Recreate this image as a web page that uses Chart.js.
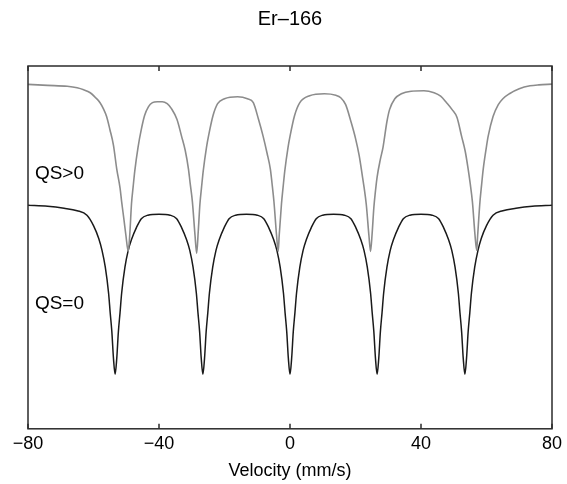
<!DOCTYPE html>
<html>
<head>
<meta charset="utf-8">
<script src="https://cdn.jsdelivr.net/npm/chart.js@4/dist/chart.umd.min.js"></script>
<style>
  html, body { margin: 0; padding: 0; background: #fff; }
</style>
</head>
<body>
<canvas id="grafico" width="567" height="484"></canvas>
<script>
// QS>0 curve (gray), velocity in mm/s
const grayX = [-80, -74, -68, -65, -63, -61, -59.5, -58, -57, -56, -55, -53.9, -52.9, -51.9, -51.4, -50.7, -50.1, -49.4,
  -48.9, -48.4, -47.9, -47.4, -46.4, -45.4, -44.4, -43.2, -42, -40.5, -39, -37.5, -36.2, -34.5, -33.1, -32, -31, -30.5, -29.8, -29, -28.5,
  -28, -27.5, -27, -26.5, -25.5, -24.9, -23.5, -22.1, -20, -16, -13, -11.2, -9.6, -8.2, -7, -6, -5.5, -4.9, -4.1, -3.6,
  -3.3, -2.6, -2.1, -1.6, -0.6, 0, 1.4, 3, 6, 10.5, 14, 15.5, 17, 18.6, 20, 21.1, 22.1, 22.6, 23.3, 24.1, 24.6,
  25.1, 25.6, 26.1, 26.6, 27.6, 28.4, 29.6, 30.4, 32, 34, 37, 40.9, 44, 46, 47.8, 49.5, 51, 52.4, 53.5, 54.4, 55, 55.7, 56.5, 57,
  57.3, 58, 58.5, 59, 60, 60.5, 62, 63.6, 65, 67, 70, 73.3, 76, 80];
const grayY = [3.475, 3.465, 3.455, 3.44, 3.42, 3.39, 3.345, 3.29, 3.23, 3.15, 3.02, 2.86, 2.62, 2.43, 2.29, 2.11, 1.95, 1.79,
  1.97, 2.27, 2.44, 2.60, 2.84, 3.02, 3.16, 3.25, 3.29, 3.30, 3.30, 3.28, 3.23, 3.12, 2.95, 2.81, 2.62, 2.48, 2.29, 1.95, 1.77,
  2.00, 2.27, 2.44, 2.60, 2.84, 2.95, 3.16, 3.28, 3.33, 3.35, 3.33, 3.29, 3.12, 2.95, 2.78, 2.62, 2.48, 2.29, 1.95, 1.79,
  1.95, 2.27, 2.44, 2.60, 2.84, 2.95, 3.16, 3.29, 3.36, 3.38, 3.365, 3.34, 3.27, 3.10, 2.93, 2.76, 2.55, 2.44, 2.26, 1.95, 1.79,
  1.98, 2.23, 2.40, 2.54, 2.72, 2.84, 3.10, 3.22, 3.33, 3.38, 3.405, 3.41, 3.39, 3.355, 3.29, 3.22, 3.14, 2.95, 2.80, 2.62, 2.48, 2.29, 1.95, 1.80,
  1.95, 2.29, 2.46, 2.62, 2.85, 2.95, 3.15, 3.27, 3.33, 3.38, 3.43, 3.46, 3.47, 3.477];

// QS=0 curve (black)
const blackX = [-80, -74, -69, -65, -62, -60, -58.4, -57.4, -56.4, -55.4, -54.9, -54.4, -53.9, -53.4,
  -52.9, -52.4, -51.9, -51.4, -50.4, -49.4, -48.4, -46.9, -45.4, -43.4, -40, -36.6, -34.6, -33.1, -31.6, -30.6, -29.6, -28.6, -28.1, -27.6, -27.1, -26.6,
  -26.1, -25.6, -25.1, -24.6, -23.6, -22.6, -21.6, -20.1, -18.6, -16.6, -13.3, -10, -8, -6.5, -5, -4, -3, -2, -1.5, -1, -0.5, 0,
  0.5, 1, 1.5, 2, 3, 4, 5, 6.5, 8, 10, 13.3, 16.6, 18.6, 20.1, 21.6, 22.6, 23.6, 24.6, 25.1, 25.6, 26.1, 26.6,
  27.1, 27.6, 28.1, 28.6, 29.6, 30.6, 31.6, 33.1, 34.6, 36.6, 40, 43.4, 45.4, 46.9, 48.4, 49.4, 50.4, 51.4, 51.9, 52.4, 52.9, 53.4,
  53.9, 54.4, 54.9, 55.4, 56.4, 57.4, 58.4, 60, 62, 65, 69, 74, 80];
const blackY = [2.255, 2.245, 2.225, 2.20, 2.155, 2.05, 1.92, 1.80, 1.63, 1.37, 1.17, 0.98, 0.71, 0.55,
  0.71, 0.98, 1.17, 1.37, 1.63, 1.80, 1.91, 2.03, 2.12, 2.155, 2.165, 2.155, 2.12, 2.03, 1.91, 1.80, 1.63, 1.37, 1.17, 0.98, 0.71, 0.55,
  0.71, 0.98, 1.17, 1.37, 1.63, 1.80, 1.91, 2.03, 2.12, 2.155, 2.165, 2.155, 2.12, 2.03, 1.91, 1.80, 1.63, 1.37, 1.17, 0.98, 0.71, 0.55,
  0.71, 0.98, 1.17, 1.37, 1.63, 1.80, 1.91, 2.03, 2.12, 2.155, 2.165, 2.155, 2.12, 2.03, 1.91, 1.80, 1.63, 1.37, 1.17, 0.98, 0.71, 0.55,
  0.71, 0.98, 1.17, 1.37, 1.63, 1.80, 1.91, 2.03, 2.12, 2.155, 2.165, 2.155, 2.12, 2.03, 1.91, 1.80, 1.63, 1.37, 1.17, 0.98, 0.71, 0.55,
  0.71, 0.98, 1.17, 1.37, 1.63, 1.80, 1.92, 2.05, 2.155, 2.20, 2.225, 2.245, 2.255];

const labelTexts = ["QS>0", "QS=0"];
const labelX = [-77.9, -77.9];
const labelY = [2.57, 1.26];

const fonte = "'Liberation Sans', Arial, sans-serif";

function juntaPontos(xs, ys) {
  return xs.map((x, i) => {
    return { x: x, y: ys[i] };
  });
}

// box around the plot, inward ticks, curve labels
const moldura = {
  id: "moldura",
  afterDraw(chart) {
    const ctx = chart.ctx;
    const area = chart.chartArea;
    const sx = chart.scales.x;
    const sy = chart.scales.y;
    ctx.save();
    ctx.strokeStyle = "#2b2b2b";
    ctx.lineWidth = 1.5;
    ctx.strokeRect(area.left, area.top, area.right - area.left, area.bottom - area.top);
    sx.ticks.forEach((t) => {
      let px = sx.getPixelForValue(t.value);
      ctx.beginPath();
      ctx.moveTo(px, area.bottom);
      ctx.lineTo(px, area.bottom - 5);
      ctx.moveTo(px, area.top);
      ctx.lineTo(px, area.top + 5);
      ctx.stroke();
    });
    ctx.fillStyle = "#000";
    ctx.font = "19px " + fonte;
    ctx.textBaseline = "middle";
    ctx.textAlign = "left";
    for (let i = 0; i < labelTexts.length; i++) {
      ctx.fillText(labelTexts[i], sx.getPixelForValue(labelX[i]), sy.getPixelForValue(labelY[i]));
    }
    ctx.restore();
  },
};

const ctx = document.getElementById("grafico");
window.myCharts = new Chart(ctx, {
  type: "line",
  data: {
    datasets: [
      {
        label: "QS>0",
        data: juntaPontos(grayX, grayY),
        borderColor: "#8c8c8c",
        borderWidth: 1.6,
        pointRadius: 0,
        fill: false,
        cubicInterpolationMode: "monotone",
      },
      {
        label: "QS=0",
        data: juntaPontos(blackX, blackY),
        borderColor: "#1a1a1a",
        borderWidth: 1.5,
        pointRadius: 0,
        fill: false,
        cubicInterpolationMode: "monotone",
      },
    ],
  },
  options: {
    responsive: false,
    animation: false,
    devicePixelRatio: 1,
    layout: { padding: { left: 28, right: 15, top: 0, bottom: 0 } },
    plugins: {
      legend: { display: false },
      tooltip: { enabled: false },
      title: {
        display: true,
        text: "Er\u2013166",
        color: "#000",
        font: { family: fonte, size: 20, weight: "normal", lineHeight: 1.2 },
        padding: { top: 7, bottom: 35 },
      },
    },
    scales: {
      x: {
        type: "linear",
        min: -80,
        max: 80,
        grid: { display: false, drawTicks: false },
        border: { display: false },
        ticks: {
          stepSize: 40,
          color: "#000",
          padding: 4,
          maxRotation: 0,
          font: { family: fonte, size: 18, lineHeight: 1.2 },
          callback: (v) => String(v).replace("-", "\u2212"),
        },
        title: {
          display: true,
          text: "Velocity (mm/s)",
          color: "#000",
          font: { family: fonte, size: 18, lineHeight: 1.2 },
          padding: { top: 2, bottom: 2 },
        },
      },
      y: {
        display: false,
        min: 0,
        max: 3.66,
      },
    },
  },
  plugins: [moldura],
});
</script>
</body>
</html>
